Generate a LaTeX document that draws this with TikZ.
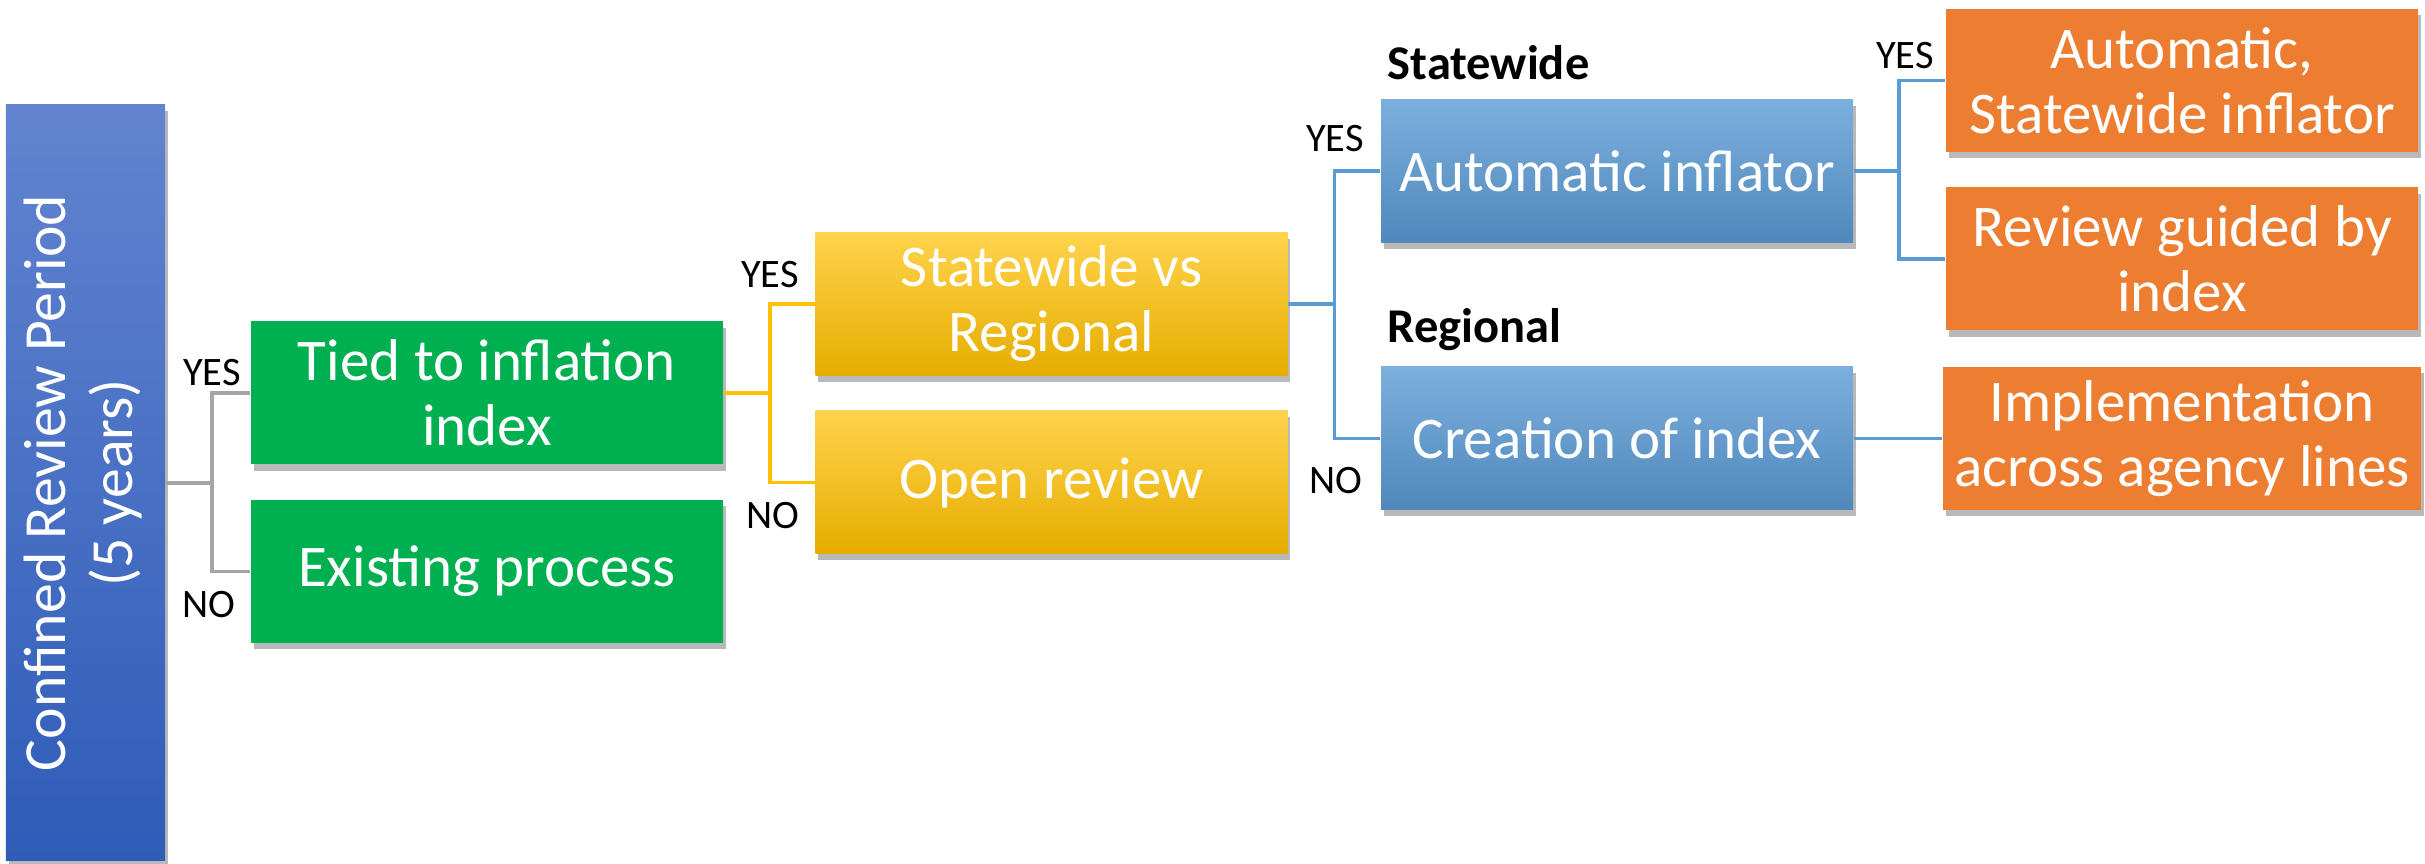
\documentclass[tikz,border=0pt]{standalone}
\usepackage{fontspec}
\setmainfont{Carlito}
\usetikzlibrary{shadows}

\definecolor{boxgreen}{HTML}{00B050}
\definecolor{boxorange}{HTML}{ED7D31}
\definecolor{lineyellow}{HTML}{FFC000}
\definecolor{lineblue}{HTML}{5B9BD5}
\definecolor{linegray}{HTML}{A5A5A5}
\definecolor{sidetop}{HTML}{6284D0}
\definecolor{sidebottom}{HTML}{2F5CB8}

\tikzset{
  box/.style={rectangle, minimum width=4.72cm, minimum height=1.43cm, align=center,
    text=white, font=\fontsize{16.8}{18.5}\selectfont,
    drop shadow={shadow xshift=0.8pt, shadow yshift=-1.8pt, opacity=0.55}},
  greenbox/.style={box, fill=boxgreen},
  yellowbox/.style={box, top color=lineyellow!70!white, middle color=lineyellow, bottom color=lineyellow!90!black},
  bluebox/.style={box, top color=lineblue!80!white, middle color=lineblue, bottom color=lineblue!88!black},
  orangebox/.style={box, fill=boxorange},
  sidebox/.style={rectangle, minimum width=1.47cm, minimum height=7.56cm, text=white,
    top color=sidetop, bottom color=sidebottom,
    drop shadow={shadow xshift=0.8pt, shadow yshift=-1.8pt, opacity=0.55}},
  lbl/.style={font=\fontsize{11.5}{12}\selectfont, inner sep=0pt},
  head/.style={font=\bfseries\fontsize{13.8}{14}\selectfont, inner sep=0pt},
  grayline/.style={draw=linegray, line width=1pt},
  yellowline/.style={draw=lineyellow, line width=1pt},
  blueline/.style={draw=lineblue, line width=1pt},
}

\begin{document}
\begin{tikzpicture}
\useasboundingbox (0,0) rectangle (24.25,8.64);

% review period
\node[sidebox] (cfr) at (0.855,3.81) {\rotatebox{90}{\fontsize{17}{19.3}\selectfont
  \begin{tabular}{@{}c@{}}Confined Review Period\\(5 years)\end{tabular}}};

% level 1
\node[greenbox] (tied) at (4.87,4.71) {Tied to inflation\\index};
\node[greenbox] (exist) at (4.87,2.925) {Existing process};

% level 2
\node[yellowbox] (svr) at (10.515,5.60) {Statewide vs\\Regional};
\node[yellowbox] (open) at (10.515,3.815) {Open review};

% level 3
\node[bluebox] (auto) at (16.17,6.93) {Automatic inflator};
\node[bluebox] (creat) at (16.17,4.255) {Creation of index};

% level 4
\node[orangebox] (asi) at (21.82,7.835) {Automatic,\\Statewide inflator};
\node[orangebox] (rgi) at (21.82,6.05) {Review guided by\\index};
\node[orangebox] (impl) at (21.82,4.255) {Implementation\\across agency lines};

% connectors
\draw[grayline] (cfr.east) -- ++(0.465,0) |- (tied.west);
\draw[grayline] (cfr.east) -- ++(0.465,0) |- (exist.west);
\draw[yellowline] (tied.east) -- ++(0.465,0) |- (svr.west);
\draw[yellowline] (tied.east) -- ++(0.465,0) |- (open.west);
\draw[blueline] (svr.east) -- ++(0.465,0) |- (auto.west);
\draw[blueline] (svr.east) -- ++(0.465,0) |- (creat.west);
\draw[blueline] (auto.east) -- ++(0.455,0) |- (asi.west);
\draw[blueline] (auto.east) -- ++(0.455,0) |- (rgi.west);
\draw[blueline] (creat.east) -- (impl.west);

% labels
\node[lbl] (y1) at (2.12,4.91) {YES};
\node[lbl] (n1) at (2.09,2.59) {NO};
\node[lbl] (y2) at (7.70,5.89) {YES};
\node[lbl] (n2) at (7.73,3.48) {NO};
\node[lbl] (y3) at (13.35,7.25) {YES};
\node[lbl] (n3) at (13.36,3.83) {NO};
\node[lbl] (y4) at (19.05,8.08) {YES};
\node[head, anchor=base west] (sw) at (13.87,7.84) {Statewide};
\node[head, anchor=base west] (rg) at (13.87,5.21) {Regional};
\end{tikzpicture}
\end{document}
